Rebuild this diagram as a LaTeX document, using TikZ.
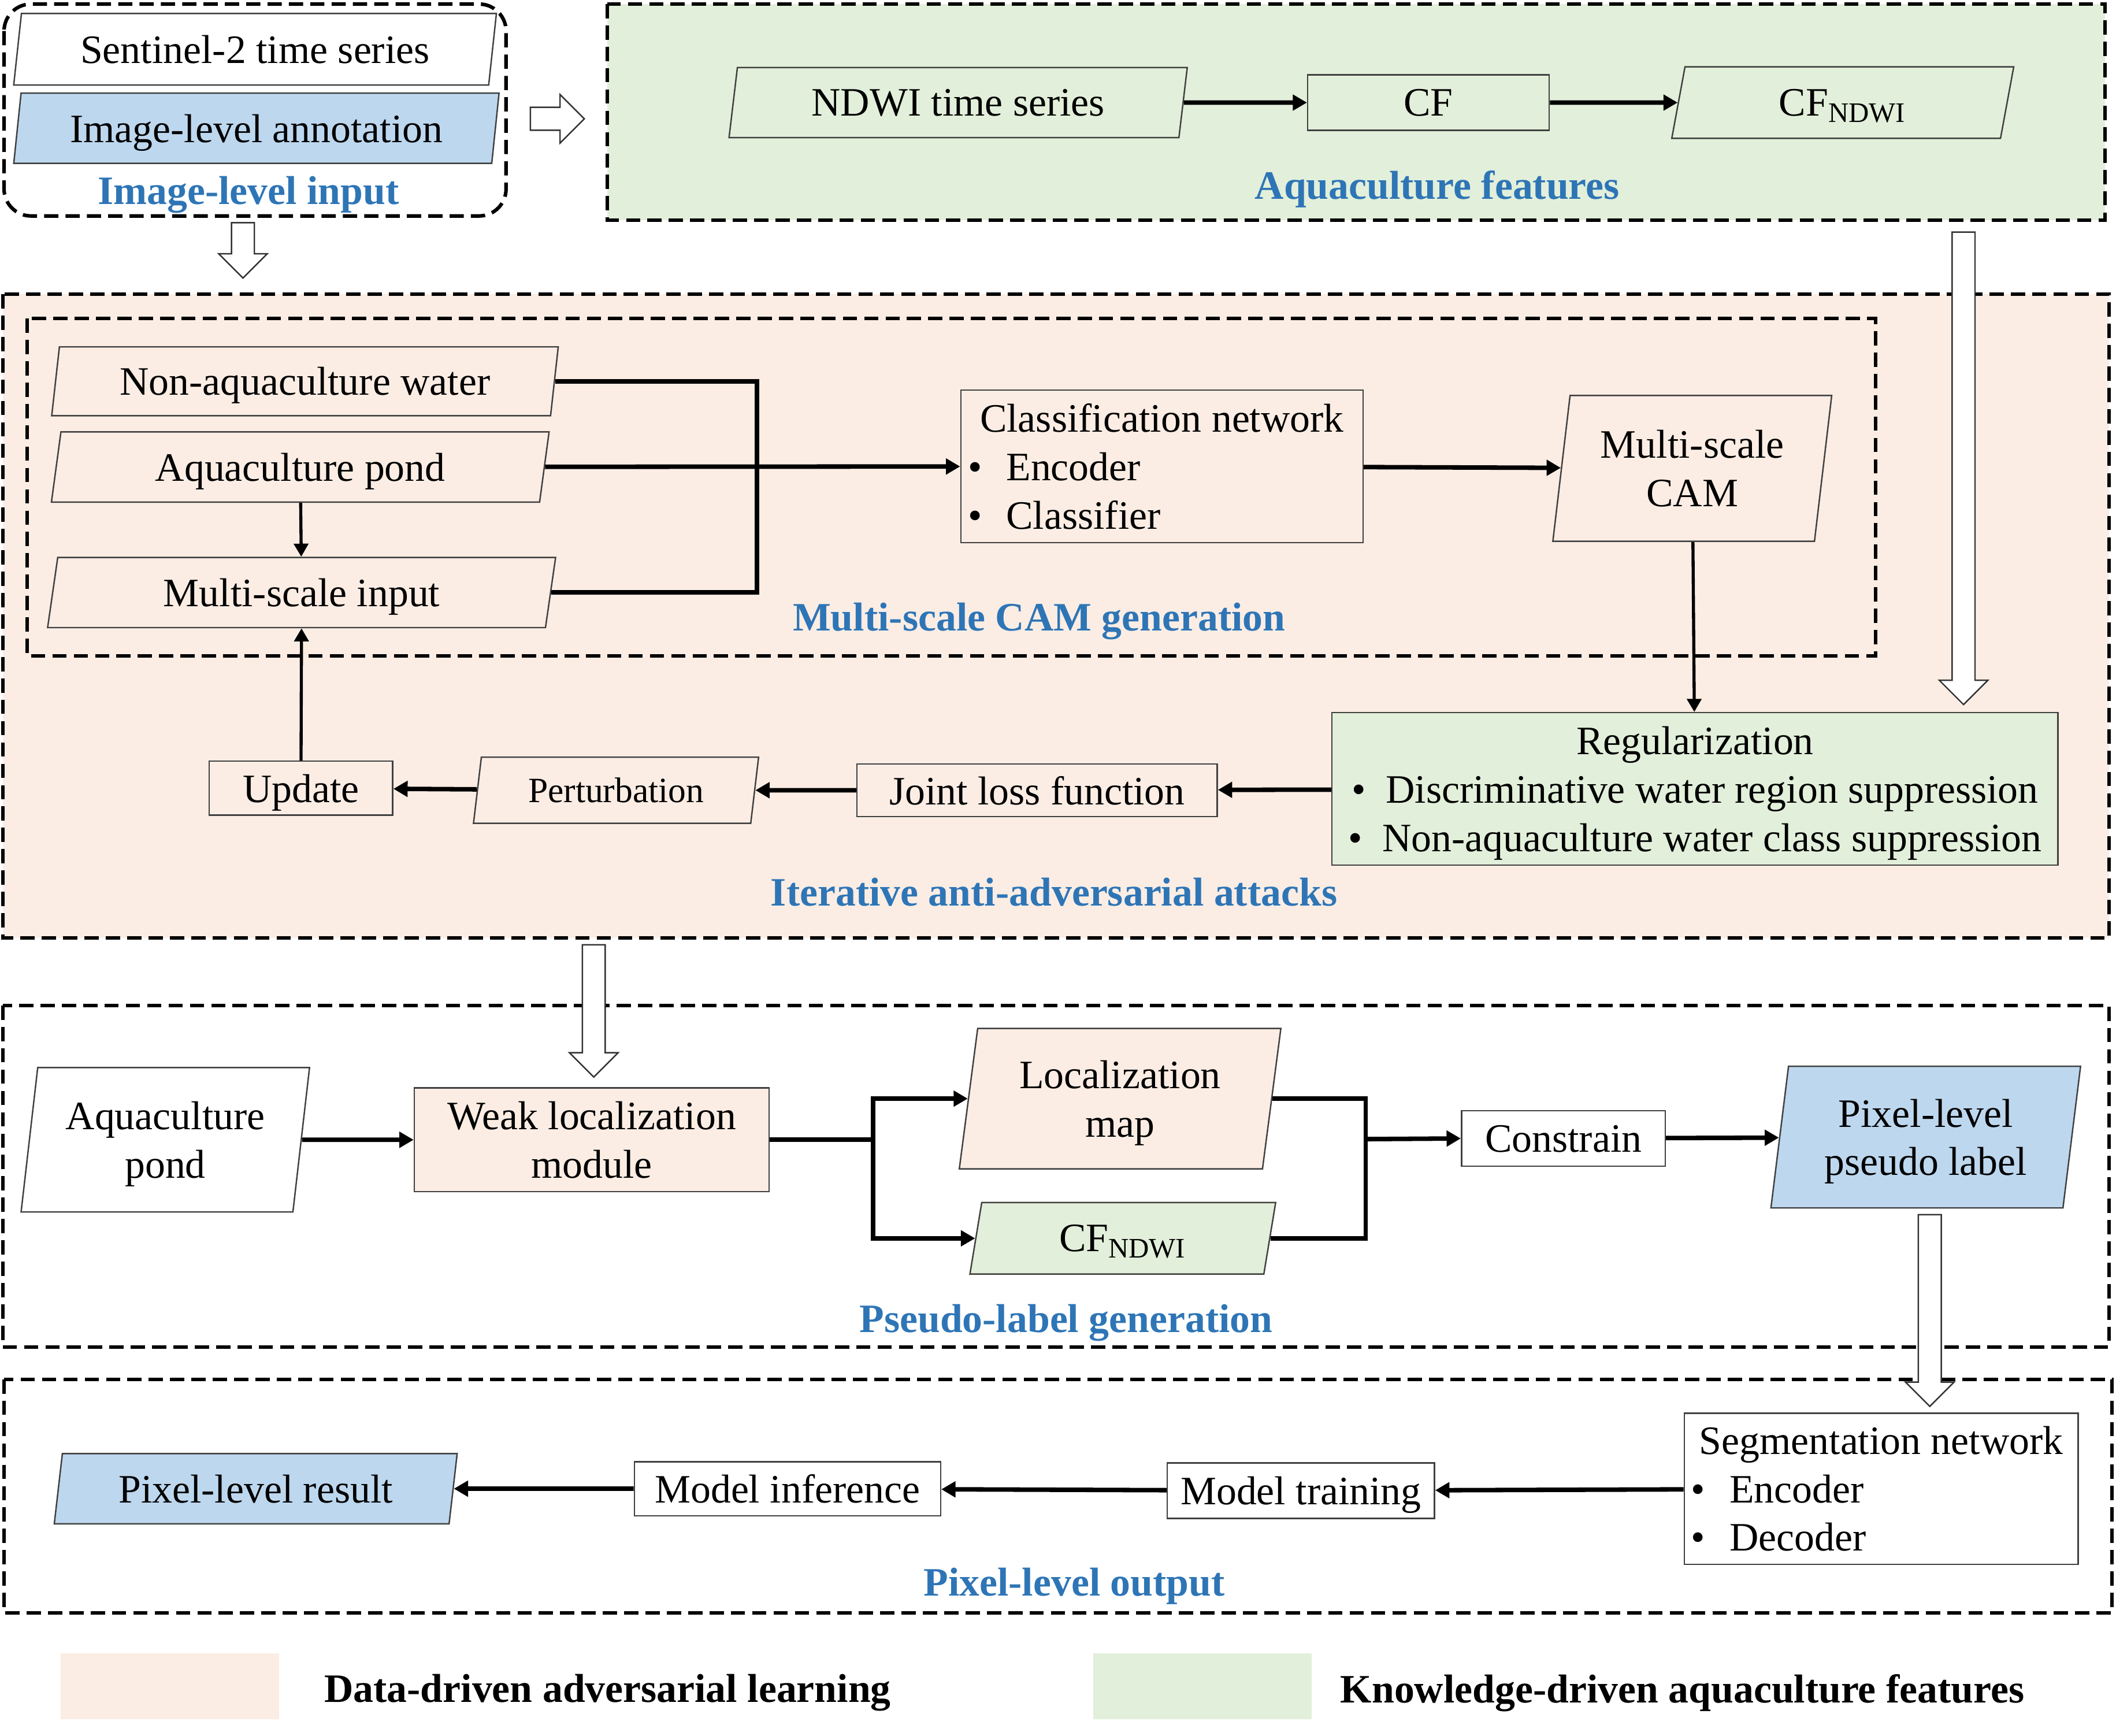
\documentclass[tikz,border=0pt]{standalone}
\usepackage{fontspec}
\setmainfont{Liberation Serif}
\usetikzlibrary{shapes.geometric,arrows.meta,calc}

\definecolor{pinkbg}{RGB}{251,237,228}
\definecolor{greenbg}{RGB}{226,239,218}
\definecolor{bluebg}{RGB}{189,215,238}
\definecolor{labelblue}{RGB}{46,117,182}

% open block arrow from #1 to #2
\newcommand{\hollowarrow}[2]{%
  \coordinate (hb) at ($(#2)!0.36cm!(#1)$);
  \draw[hollow] ($(#1)!0.17cm!90:(#2)$) -- ($(hb)!0.17cm!90:(#2)$)
    -- ($(hb)!0.36cm!90:(#2)$) -- (#2) -- ($(hb)!0.36cm!-90:(#2)$)
    -- ($(hb)!0.17cm!-90:(#2)$) -- ($(#1)!0.17cm!-90:(#2)$) -- cycle;
}

\begin{document}
\begin{tikzpicture}[x=0.02cm,y=-0.02cm,
  every node/.style={font=\fontsize{17}{20.4}\selectfont},
  box/.style={draw=black!75,line width=0.6pt,rectangle,inner sep=2pt,align=center,text depth=0pt},
  para/.style={box,trapezium,trapezium left angle=81,trapezium right angle=99,trapezium stretches=true},
  frame/.style={line width=1.5pt,dash pattern=on 6pt off 3pt},
  grp/.style={text=labelblue,text depth=0pt,font=\fontsize{17}{20.4}\selectfont\bfseries},
  legtxt/.style={anchor=west,inner sep=0pt,text depth=0pt,font=\fontsize{17}{20.4}\selectfont\bfseries},
  arr/.style={line width=1.9pt,-{Triangle[length=6pt,width=6.5pt]}},
  tarr/.style={line width=1.3pt,-{Triangle[length=5.5pt,width=6pt]}},
  wire/.style={line width=1.9pt},
  hollow/.style={line width=0.6pt,fill=white,draw=black!80}]
\useasboundingbox (0,0) rectangle (1568,1286);

% group frames
\draw[frame,rounded corners=0.4cm] (3,3) rectangle (375,160);
\draw[frame,fill=greenbg] (450,3) rectangle (1560,163);
\draw[frame,fill=pinkbg] (2,218) rectangle (1563,695);
\draw[frame] (20,236) rectangle (1390,486);
\draw[frame] (2,745) rectangle (1563,998);
\draw[frame] (3,1022) rectangle (1565,1195);

% image-level input
\node[para,fill=white,minimum width=7.16cm,minimum height=1.06cm] (sent) at (189,36.5) {Sentinel-2 time series};
\node[para,fill=bluebg,minimum width=7.2cm,minimum height=1.04cm] (annot) at (190,95) {Image-level annotation};
\node[grp] (inlab) at (184,141) {Image-level input};

% aquaculture features
\node[para,fill=greenbg,minimum width=6.8cm,minimum height=1.04cm] (ndwi) at (710,76) {NDWI time series};
\node[box,fill=greenbg,minimum width=3.58cm,minimum height=0.82cm] (cf) at (1058.5,76) {CF};
\node[para,fill=greenbg,minimum width=5.1cm,minimum height=1.06cm] (cfn) at (1365.5,76) {CF\textsubscript{NDWI}};
\node[grp] (featlab) at (1065,137) {Aquaculture features};

% multi-scale CAM generation
\node[para,fill=pinkbg,minimum width=7.52cm,minimum height=1.02cm] (nonaq) at (226,282.5) {Non-aquaculture water};
\node[para,fill=pinkbg,minimum width=7.38cm,minimum height=1.04cm] (aqp) at (222.5,346) {Aquaculture pond};
\node[para,fill=pinkbg,minimum width=7.54cm,minimum height=1.04cm] (msin) at (223.5,439) {Multi-scale input};
\node[box,fill=pinkbg,align=left,minimum width=5.96cm,minimum height=2.26cm] (cls) at (861,345.5)
  {Classification network\\\hspace*{-0.3em}\textbullet\hspace{0.6em}Encoder\\\hspace*{-0.3em}\textbullet\hspace{0.6em}Classifier};
\node[para,fill=pinkbg,minimum width=4.16cm,minimum height=2.16cm] (cam) at (1254,347) {Multi-scale\\CAM};
\node[grp] (camlab) at (770,457) {Multi-scale CAM generation};

% iterative anti-adversarial attacks
\node[box,fill=greenbg,minimum width=10.76cm,minimum height=2.26cm] (reg) at (1256,584.5)
  {Regularization\\\textbullet\hspace{0.5em}Discriminative water region suppression\\\textbullet\hspace{0.5em}Non-aquaculture water class suppression};
\node[box,fill=pinkbg,minimum width=5.34cm,minimum height=0.78cm] (joint) at (768.5,585.5) {Joint loss function};
\node[para,fill=pinkbg,minimum width=4.26cm,minimum height=0.98cm,font=\fontsize{15}{18}\selectfont] (pert) at (456.5,585.5) {Perturbation};
\node[box,fill=pinkbg,minimum width=2.72cm,minimum height=0.8cm] (upd) at (223,584) {Update};
\node[grp] (atklab) at (781,661) {Iterative anti-adversarial attacks};

% pseudo-label generation
\node[para,fill=white,minimum width=4.3cm,minimum height=2.14cm] (aqp2) at (122.5,844.5) {Aquaculture\\pond};
\node[box,fill=pinkbg,minimum width=5.26cm,minimum height=1.54cm] (weak) at (438.5,844.5) {Weak localization\\module};
\node[para,fill=pinkbg,minimum width=4.8cm,minimum height=2.08cm] (loc) at (830,814) {Localization\\map};
\node[para,fill=greenbg,minimum width=4.56cm,minimum height=1.06cm] (cf2) at (832,917.5) {CF\textsubscript{NDWI}};
\node[box,fill=white,minimum width=3.02cm,minimum height=0.82cm] (cons) at (1158.5,843.5) {Constrain};
\node[para,fill=bluebg,minimum width=4.6cm,minimum height=2.1cm] (pseudo) at (1427,842.5) {Pixel-level\\pseudo label};
\node[grp] (pslab) at (790,977) {Pseudo-label generation};

% pixel-level output
\node[box,fill=white,align=left,minimum width=5.84cm,minimum height=2.24cm] (seg) at (1394,1103)
  {Segmentation network\\\hspace*{-0.2em}\textbullet\hspace{0.6em}Encoder\\\hspace*{-0.2em}\textbullet\hspace{0.6em}Decoder};
\node[box,fill=white,minimum width=3.96cm,minimum height=0.82cm] (train) at (964,1104.5) {Model training};
\node[box,fill=white,minimum width=4.54cm,minimum height=0.8cm] (infer) at (583.5,1103) {Model inference};
\node[para,fill=bluebg,minimum width=5.98cm,minimum height=1.04cm] (result) at (189.5,1103) {Pixel-level result};
\node[grp] (outlab) at (796,1172) {Pixel-level output};

% legend
\node[fill=pinkbg,minimum width=3.24cm,minimum height=0.98cm,inner sep=0pt] (lgpink) at (126,1249.5) {};
\node[legtxt] (lgpinktxt) at (240,1251) {Data-driven adversarial learning};
\node[fill=greenbg,minimum width=3.24cm,minimum height=0.98cm,inner sep=0pt] (lggreen) at (891,1249.5) {};
\node[legtxt] (lggreentxt) at (993,1251) {Knowledge-driven aquaculture features};

% connectors
\foreach \from/\to in {ndwi/cf,cf/cfn,aqp/cls,cls/cam,reg/joint,joint/pert,pert/upd,aqp2/weak,cons/pseudo,seg/train,train/infer,infer/result}
\draw[arr] (\from) -- (\to);
\foreach \from/\to in {aqp/msin,cam/reg,upd/msin}
\draw[tarr] (\from) -- (\to);

\coordinate (jn) at (561,346);
\draw[wire] (nonaq.east) -| (jn) |- (msin.east);

\coordinate (sp) at (647,844.5);
\draw[wire] (weak.east) -- (sp);
\draw[arr] (sp) |- (loc.west);
\draw[arr] (sp) |- (cf2.west);
\coordinate (jp) at (1012,844);
\draw[wire] (loc.east) -| (jp);
\draw[wire] (cf2.east) -| (jp);
\draw[arr] (jp) -- (cons.west);

% open arrows between stages
\coordinate (ha1) at (393,88);    \coordinate (hb1) at (433,88);
\coordinate (ha2) at (180,165);   \coordinate (hb2) at (180,206);
\coordinate (ha3) at (1455,172);  \coordinate (hb3) at (1455,522);
\coordinate (ha4) at (440,700);   \coordinate (hb4) at (440,798);
\coordinate (ha5) at (1430,900);  \coordinate (hb5) at (1430,1042);
\hollowarrow{ha1}{hb1}
\hollowarrow{ha2}{hb2}
\hollowarrow{ha3}{hb3}
\hollowarrow{ha4}{hb4}
\hollowarrow{ha5}{hb5}
\end{tikzpicture}
\end{document}
